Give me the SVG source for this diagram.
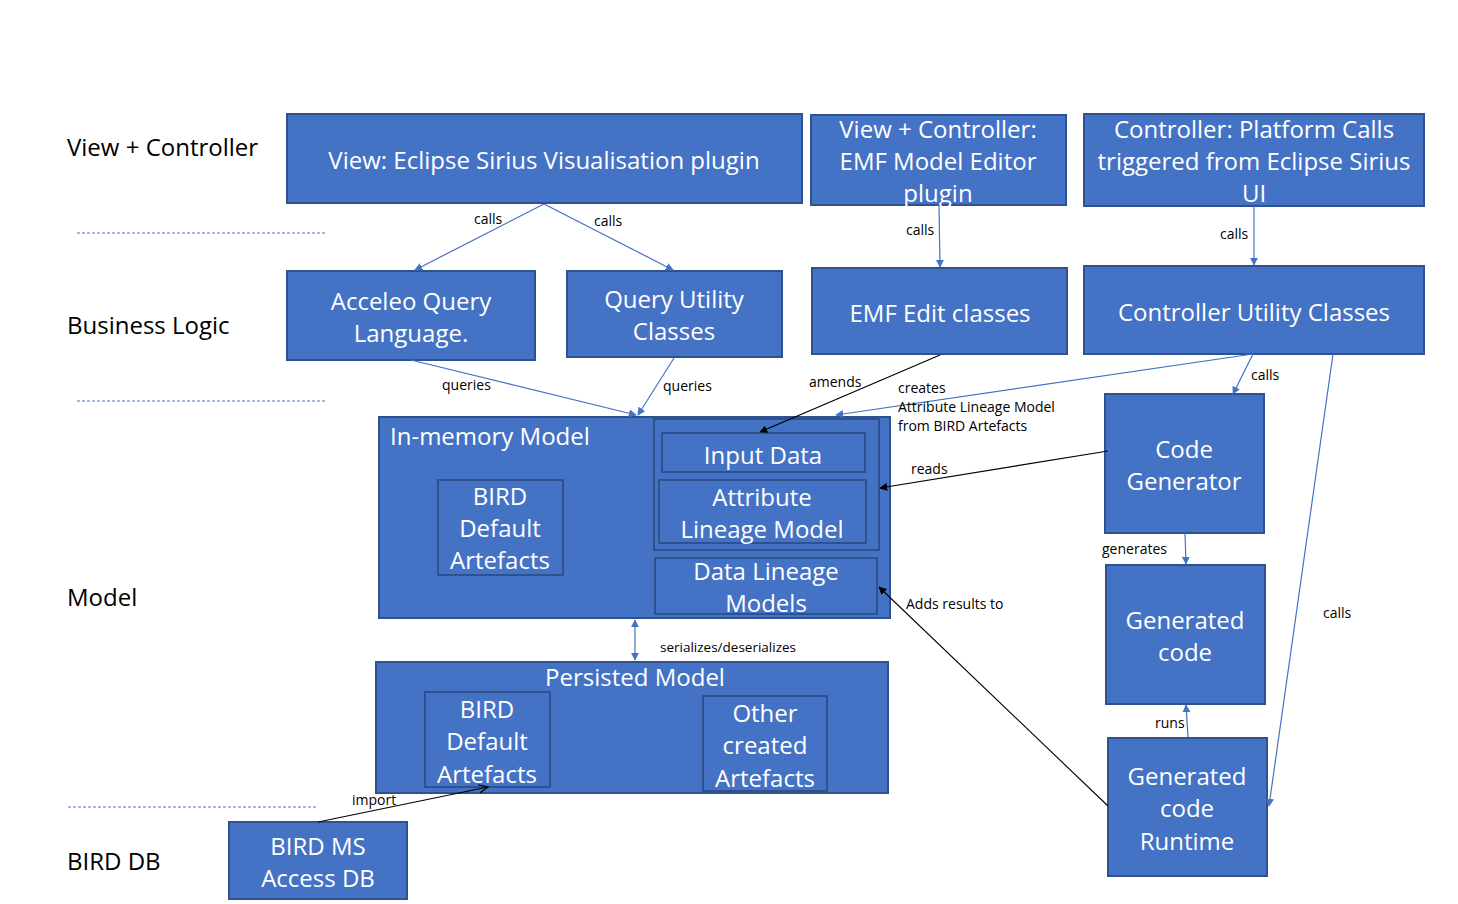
<svg xmlns="http://www.w3.org/2000/svg" width="1458" height="904" viewBox="0 0 1458 904">
<style>
.box{fill:#4472C4;stroke:#2F528F;stroke-width:2}
.t{font-family:"Open Sans","Noto Sans",sans-serif;font-size:24px;fill:#fff;text-anchor:middle;dominant-baseline:central}
.lane{font-family:"Open Sans","Noto Sans",sans-serif;font-size:24px;fill:#000}
.lbl{font-family:"Open Sans","Noto Sans",sans-serif;font-size:14px;fill:#000}
.dash{stroke:#4472C4;stroke-width:1;stroke-dasharray:3 2;fill:none}
.cb{stroke:#4472C4;stroke-width:1.2;fill:none;marker-end:url(#ab)}
.ck{stroke:#000;stroke-width:1.1;fill:none;marker-end:url(#ak)}
</style>
<defs>
<marker id="ab" viewBox="0 0 10 10" refX="9" refY="5" markerWidth="8" markerHeight="8" markerUnits="userSpaceOnUse" orient="auto"><path d="M0,0 L10,5 L0,10 z" fill="#4472C4"/></marker>
<marker id="abs" viewBox="0 0 10 10" refX="9" refY="5" markerWidth="8" markerHeight="8" markerUnits="userSpaceOnUse" orient="auto-start-reverse"><path d="M0,0 L10,5 L0,10 z" fill="#4472C4"/></marker>
<marker id="ak" viewBox="0 0 10 10" refX="9" refY="5" markerWidth="8" markerHeight="8" markerUnits="userSpaceOnUse" orient="auto"><path d="M0,0 L10,5 L0,10 z" fill="#000"/></marker>
<marker id="ao" viewBox="0 0 10 10" refX="9" refY="5" markerWidth="10" markerHeight="10" markerUnits="userSpaceOnUse" orient="auto"><path d="M0,1 L9,5 L0,9" fill="none" stroke="#000" stroke-width="1.2"/></marker>
</defs>
<rect width="1458" height="904" fill="#fff"/>

<g id="lanes">
<text class="lane" x="67" y="156">View + Controller</text>
<text class="lane" x="67" y="334">Business Logic</text>
<text class="lane" x="67" y="606">Model</text>
<text class="lane" x="67" y="870">BIRD DB</text>
<line class="dash" x1="77" y1="233" x2="326" y2="233"/>
<line class="dash" x1="77" y1="401" x2="326" y2="401"/>
<line class="dash" x1="68" y1="807" x2="318" y2="807"/>
</g>

<g id="view-sirius"><rect class="box" x="287" y="114" width="515" height="89"/><text class="t" x="544" y="159">View: Eclipse Sirius Visualisation plugin</text></g>
<g id="view-emf"><rect class="box" x="811" y="115" width="255" height="90"/><text class="t" x="938" y="128">View + Controller:</text><text class="t" x="938" y="160">EMF Model Editor</text><text class="t" x="938" y="192">plugin</text></g>
<g id="controller-platform"><rect class="box" x="1084" y="114" width="340" height="92"/><text class="t" x="1254" y="128">Controller: Platform Calls</text><text class="t" x="1254" y="160">triggered from Eclipse Sirius</text><text class="t" x="1254" y="192">UI</text></g>
<g id="acceleo"><rect class="box" x="287" y="271" width="248" height="89"/><text class="t" x="411" y="300">Acceleo Query</text><text class="t" x="411" y="332">Language.</text></g>
<g id="query-utility"><rect class="box" x="567" y="271" width="215" height="86"/><text class="t" x="674" y="298">Query Utility</text><text class="t" x="674" y="330">Classes</text></g>
<g id="emf-edit"><rect class="box" x="812" y="268" width="255" height="86"/><text class="t" x="940" y="312">EMF Edit classes</text></g>
<g id="controller-utility"><rect class="box" x="1084" y="266" width="340" height="88"/><text class="t" x="1254" y="311">Controller Utility Classes</text></g>

<g id="in-memory-model">
<rect class="box" x="379" y="417" width="511" height="201"/>
<text class="t" x="390" y="435" style="text-anchor:start">In-memory Model</text>
<g id="im-bird-default"><rect class="box" x="438" y="480" width="125" height="95"/><text class="t" x="500" y="495">BIRD</text><text class="t" x="500" y="527">Default</text><text class="t" x="500" y="559">Artefacts</text></g>
<g id="im-group"><rect class="box" x="654" y="419" width="225" height="131"/></g>
<g id="input-data"><rect class="box" x="662" y="433" width="203" height="39"/><text class="t" x="763" y="454">Input Data</text></g>
<g id="attribute-lineage"><rect class="box" x="659" y="480" width="207" height="63"/><text class="t" x="762" y="496">Attribute</text><text class="t" x="762" y="528">Lineage Model</text></g>
<g id="data-lineage"><rect class="box" x="655" y="558" width="222" height="56"/><text class="t" x="766" y="570">Data Lineage</text><text class="t" x="766" y="602">Models</text></g>
</g>

<g id="persisted-model">
<rect class="box" x="376" y="662" width="512" height="131"/>
<text class="t" x="635" y="676">Persisted Model</text>
<g id="pm-bird-default"><rect class="box" x="425" y="692" width="125" height="95"/><text class="t" x="487" y="708">BIRD</text><text class="t" x="487" y="740">Default</text><text class="t" x="487" y="773">Artefacts</text></g>
<g id="pm-other"><rect class="box" x="703" y="696" width="124" height="95"/><text class="t" x="765" y="712">Other</text><text class="t" x="765" y="744">created</text><text class="t" x="765" y="777">Artefacts</text></g>
</g>

<g id="bird-access"><rect class="box" x="229" y="822" width="178" height="77"/><text class="t" x="318" y="845">BIRD MS</text><text class="t" x="318" y="877">Access DB</text></g>
<g id="code-generator"><rect class="box" x="1105" y="394" width="159" height="139"/><text class="t" x="1184" y="448">Code</text><text class="t" x="1184" y="480">Generator</text></g>
<g id="generated-code"><rect class="box" x="1106" y="565" width="159" height="139"/><text class="t" x="1185" y="619">Generated</text><text class="t" x="1185" y="651">code</text></g>
<g id="generated-runtime"><rect class="box" x="1108" y="738" width="159" height="138"/><text class="t" x="1187" y="775">Generated</text><text class="t" x="1187" y="807">code</text><text class="t" x="1187" y="840">Runtime</text></g>

<g id="connectors">
<line class="cb" x1="544" y1="204" x2="415" y2="270"/>
<text class="lbl" x="474" y="224">calls</text>
<line class="cb" x1="544" y1="204" x2="673" y2="270"/>
<text class="lbl" x="594" y="226">calls</text>
<line class="cb" x1="939" y1="205" x2="940" y2="267"/>
<text class="lbl" x="906" y="235">calls</text>
<line class="cb" x1="1254" y1="206" x2="1254" y2="265"/>
<text class="lbl" x="1220" y="239">calls</text>
<line class="cb" x1="411" y1="360" x2="636" y2="415"/>
<text class="lbl" x="442" y="390">queries</text>
<line class="cb" x1="674" y1="358" x2="638" y2="415"/>
<text class="lbl" x="663" y="391">queries</text>
<line class="ck" x1="940" y1="355" x2="760" y2="432"/>
<text class="lbl" x="809" y="387">amends</text>
<line class="cb" x1="1253" y1="354" x2="836" y2="415"/>
<text class="lbl" x="898" y="393">creates</text>
<text class="lbl" x="898" y="412">Attribute Lineage Model</text>
<text class="lbl" x="898" y="431">from BIRD Artefacts</text>
<line class="cb" x1="1253" y1="354" x2="1233" y2="394"/>
<text class="lbl" x="1251" y="380">calls</text>
<line class="cb" x1="1333" y1="354" x2="1269" y2="806"/>
<text class="lbl" x="1323" y="618">calls</text>
<line class="ck" x1="1108" y1="451" x2="880" y2="488"/>
<text class="lbl" x="911" y="474">reads</text>
<line class="cb" x1="1185" y1="533" x2="1186" y2="564"/>
<text class="lbl" x="1102" y="554">generates</text>
<line class="cb" x1="1188" y1="737" x2="1186" y2="705"/>
<text class="lbl" x="1155" y="728">runs</text>
<line class="ck" x1="1108" y1="806" x2="879" y2="587"/>
<text class="lbl" x="906" y="609">Adds results to</text>
<line x1="635" y1="620" x2="635" y2="660" stroke="#4472C4" stroke-width="1.2" marker-start="url(#abs)" marker-end="url(#ab)"/>
<text class="lbl" x="660" y="652" style="font-size:13.5px">serializes/deserializes</text>
<line x1="318" y1="822" x2="488" y2="787" stroke="#000" stroke-width="1.1" marker-end="url(#ao)"/>
<text class="lbl" x="352" y="805">import</text>
</g>
</svg>
